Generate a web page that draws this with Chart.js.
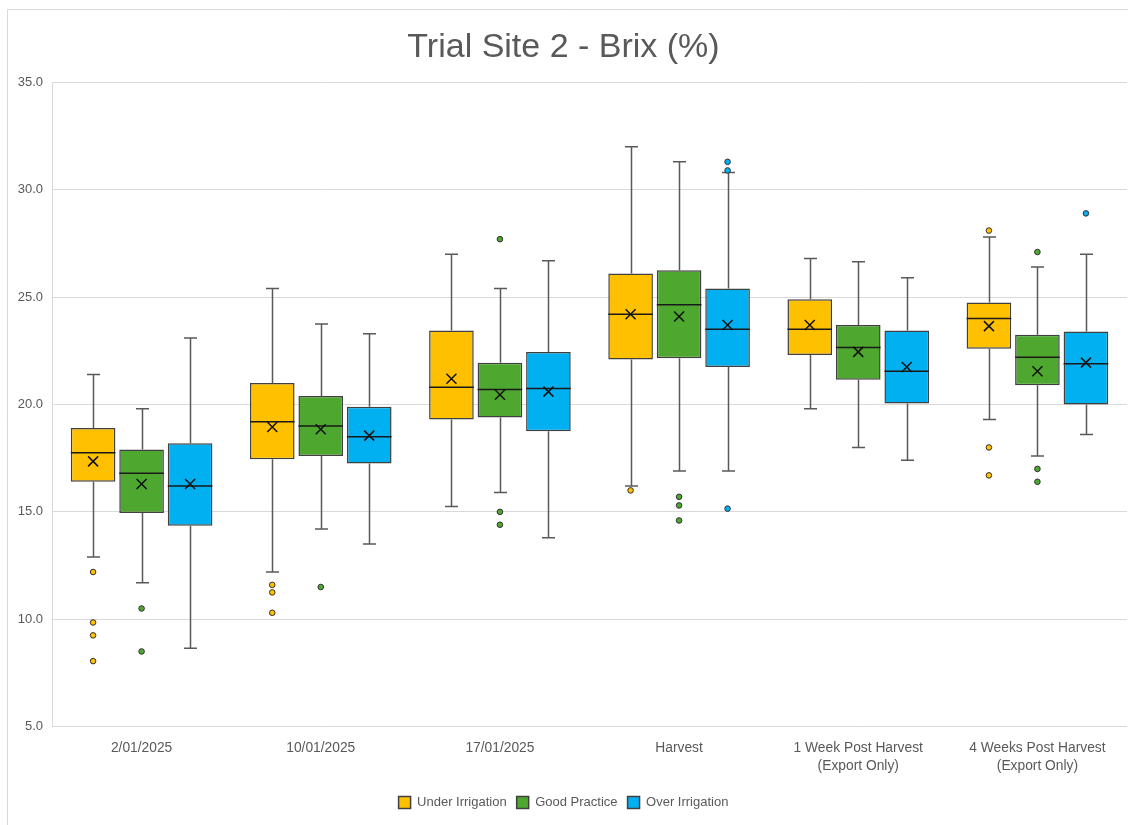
<!DOCTYPE html>
<html>
<head>
<meta charset="utf-8">
<title>Trial Site 2 - Brix (%)</title>
<script src="https://cdn.jsdelivr.net/npm/chart.js@4"></script>
<style>
  html, body { margin: 0; padding: 0; background: #fff; }
  #chart { display: block; }
</style>
</head>
<body>
<canvas id="chart" width="1128" height="825"></canvas>
<script>
// Categories and series
const categories = [
  "2/01/2025",
  "10/01/2025",
  "17/01/2025",
  "Harvest",
  ["1 Week Post Harvest", "(Export Only)"],
  ["4 Weeks Post Harvest", "(Export Only)"],
];
const seriesNames = ["Under Irrigation", "Good Practice", "Over Irrigation"];
const seriesColors = ["#FFC000", "#4EA72E", "#00B0F0"];
const yTicks = [5, 10, 15, 20, 25, 30, 35];

// Box plot statistics, one row per series (Under, Good, Over)
const whiskerLow = [
  [12.9, 12.2, 15.25, 16.2, 19.8, 19.3],
  [11.7, 14.2, 15.9, 16.9, 18.0, 17.6],
  [8.65, 13.5, 13.8, 16.9, 17.4, 18.6],
];
const quartile1 = [
  [16.4, 17.45, 19.3, 22.1, 22.3, 22.6],
  [14.95, 17.6, 19.4, 22.15, 21.15, 20.9],
  [14.35, 17.25, 18.75, 21.75, 20.05, 20.0],
];
const medians = [
  [17.75, 19.2, 20.8, 24.2, 23.5, 24.0],
  [16.8, 19.0, 20.7, 24.65, 22.65, 22.2],
  [16.2, 18.5, 20.75, 23.5, 21.55, 21.9],
];
const quartile3 = [
  [18.9, 21.0, 23.45, 26.1, 24.9, 24.75],
  [17.9, 20.4, 21.95, 26.25, 23.7, 23.25],
  [18.2, 19.9, 22.45, 25.4, 23.45, 23.4],
];
const whiskerHigh = [
  [21.4, 25.4, 27.0, 32.0, 26.8, 27.8],
  [19.8, 23.75, 25.4, 31.3, 26.65, 26.4],
  [23.1, 23.3, 26.7, 30.8, 25.9, 27.0],
];
const means = [
  [17.35, 18.95, 21.2, 24.2, 23.7, 23.65],
  [16.3, 18.85, 20.45, 24.1, 22.45, 21.55],
  [16.3, 18.55, 20.6, 23.7, 21.75, 21.95],
];
const outliers = [
  [[12.2, 9.85, 9.25, 8.05], [11.6, 11.25, 10.3], [], [16.0], [], [28.1, 18.0, 16.7]],
  [[10.5, 8.5], [11.5], [27.7, 15.0, 14.4], [15.7, 15.3, 14.6], [], [27.1, 17.0, 16.4]],
  [[], [], [], [31.3, 30.9, 15.15], [], [28.9]],
];

const textColor = "#595959";
const gridColor = "#D9D9D9";
const fontFamily = "'Liberation Sans', Arial, sans-serif";

// outer frame like the Excel chart area
const frame = {
  id: "frame",
  beforeDraw(chart) {
    const ctx = chart.ctx;
    ctx.save();
    ctx.fillStyle = "#fff";
    ctx.fillRect(0, 0, chart.width, chart.height);
    ctx.strokeStyle = gridColor;
    ctx.lineWidth = 1;
    ctx.beginPath();
    ctx.moveTo(7.5, chart.height);
    ctx.lineTo(7.5, 9.5);
    ctx.lineTo(chart.width, 9.5);
    ctx.stroke();
    ctx.restore();
  },
};

// whiskers, medians, means and outliers drawn around the floating bars
const boxExtras = {
  id: "boxExtras",
  beforeDatasetsDraw(chart) {
    const ctx = chart.ctx;
    const y = chart.scales.y;
    ctx.save();
    ctx.strokeStyle = "#595959";
    ctx.lineWidth = 1.5;
    seriesNames.forEach((name, s) => {
      const meta = chart.getDatasetMeta(s);
      meta.data.forEach((bar, i) => {
        const x = Math.round(bar.x) + 0.5;
        const capHalf = 6.5;
        const lo = y.getPixelForValue(whiskerLow[s][i]);
        const hi = y.getPixelForValue(whiskerHigh[s][i]);
        const q1 = y.getPixelForValue(quartile1[s][i]);
        const q3 = y.getPixelForValue(quartile3[s][i]);
        ctx.beginPath();
        ctx.moveTo(x, hi);
        ctx.lineTo(x, q3);
        ctx.moveTo(x, q1);
        ctx.lineTo(x, lo);
        ctx.moveTo(x - capHalf, hi);
        ctx.lineTo(x + capHalf, hi);
        ctx.moveTo(x - capHalf, lo);
        ctx.lineTo(x + capHalf, lo);
        ctx.stroke();
      });
    });
    ctx.restore();
  },
  afterDatasetsDraw(chart) {
    const ctx = chart.ctx;
    const y = chart.scales.y;
    ctx.save();
    seriesNames.forEach((name, s) => {
      const meta = chart.getDatasetMeta(s);
      meta.data.forEach((bar, i) => {
        const x = bar.x;
        const half = bar.width / 2;
        // median
        const m = y.getPixelForValue(medians[s][i]);
        ctx.strokeStyle = "#1a1a1a";
        ctx.lineWidth = 1.5;
        ctx.beginPath();
        ctx.moveTo(x - half, m);
        ctx.lineTo(x + half, m);
        ctx.stroke();
        // mean marker
        const my = y.getPixelForValue(means[s][i]);
        const r = 5;
        ctx.strokeStyle = "#111";
        ctx.lineWidth = 1.5;
        ctx.beginPath();
        ctx.moveTo(x - r, my - r);
        ctx.lineTo(x + r, my + r);
        ctx.moveTo(x + r, my - r);
        ctx.lineTo(x - r, my + r);
        ctx.stroke();
        // outliers
        outliers[s][i].forEach((v) => {
          const oy = y.getPixelForValue(v);
          ctx.beginPath();
          ctx.arc(x, oy, 2.8, 0, Math.PI * 2);
          ctx.fillStyle = seriesColors[s];
          ctx.fill();
          ctx.strokeStyle = "#333";
          ctx.lineWidth = 1;
          ctx.stroke();
        });
      });
    });
    ctx.restore();
  },
};

const datasets = seriesNames.map((name, s) => ({
  label: name,
  data: quartile1[s].map((q, i) => [q, quartile3[s][i]]),
  backgroundColor: seriesColors[s],
  borderColor: "#404040",
  borderWidth: 1.5,
  borderSkipped: false,
  categoryPercentage: 0.812,
  barPercentage: 0.92,
}));

new Chart(document.getElementById("chart"), {
  type: "bar",
  data: { labels: categories, datasets: datasets },
  options: {
    responsive: false,
    animation: false,
    layout: { padding: { left: 0, right: 1, top: 0, bottom: 6 } },
    plugins: {
      title: {
        display: true,
        text: "Trial Site 2 - Brix (%)",
        color: textColor,
        font: { family: fontFamily, size: 34, weight: "normal" },
        padding: { top: 27, bottom: 14.6 },
      },
      legend: {
        position: "bottom",
        labels: {
          color: textColor,
          font: { family: fontFamily, size: 13 },
          boxWidth: 12,
          boxHeight: 12,
          padding: 10,
        },
      },
      tooltip: { enabled: false },
    },
    scales: {
      x: {
        grid: { display: false, drawTicks: false },
        border: { display: false },
        ticks: {
          color: textColor,
          font: { family: fontFamily, size: 13.8, lineHeight: 1.3 },
          padding: 13,
          maxRotation: 0,
          autoSkip: false,
        },
        afterFit(scale) {
          scale.height = 59.4;
        },
      },
      y: {
        min: yTicks[0],
        max: yTicks[yTicks.length - 1],
        afterBuildTicks(scale) {
          scale.ticks = yTicks.map((v) => ({ value: v }));
        },
        grid: { color: gridColor, drawTicks: false },
        border: { display: true, color: gridColor },
        ticks: {
          color: textColor,
          font: { family: fontFamily, size: 13 },
          padding: 9,
          callback: (v) => Number(v).toFixed(1),
        },
        afterFit(scale) {
          scale.width = 52;
        },
      },
    },
  },
  plugins: [frame, boxExtras],
});
</script>
</body>
</html>
